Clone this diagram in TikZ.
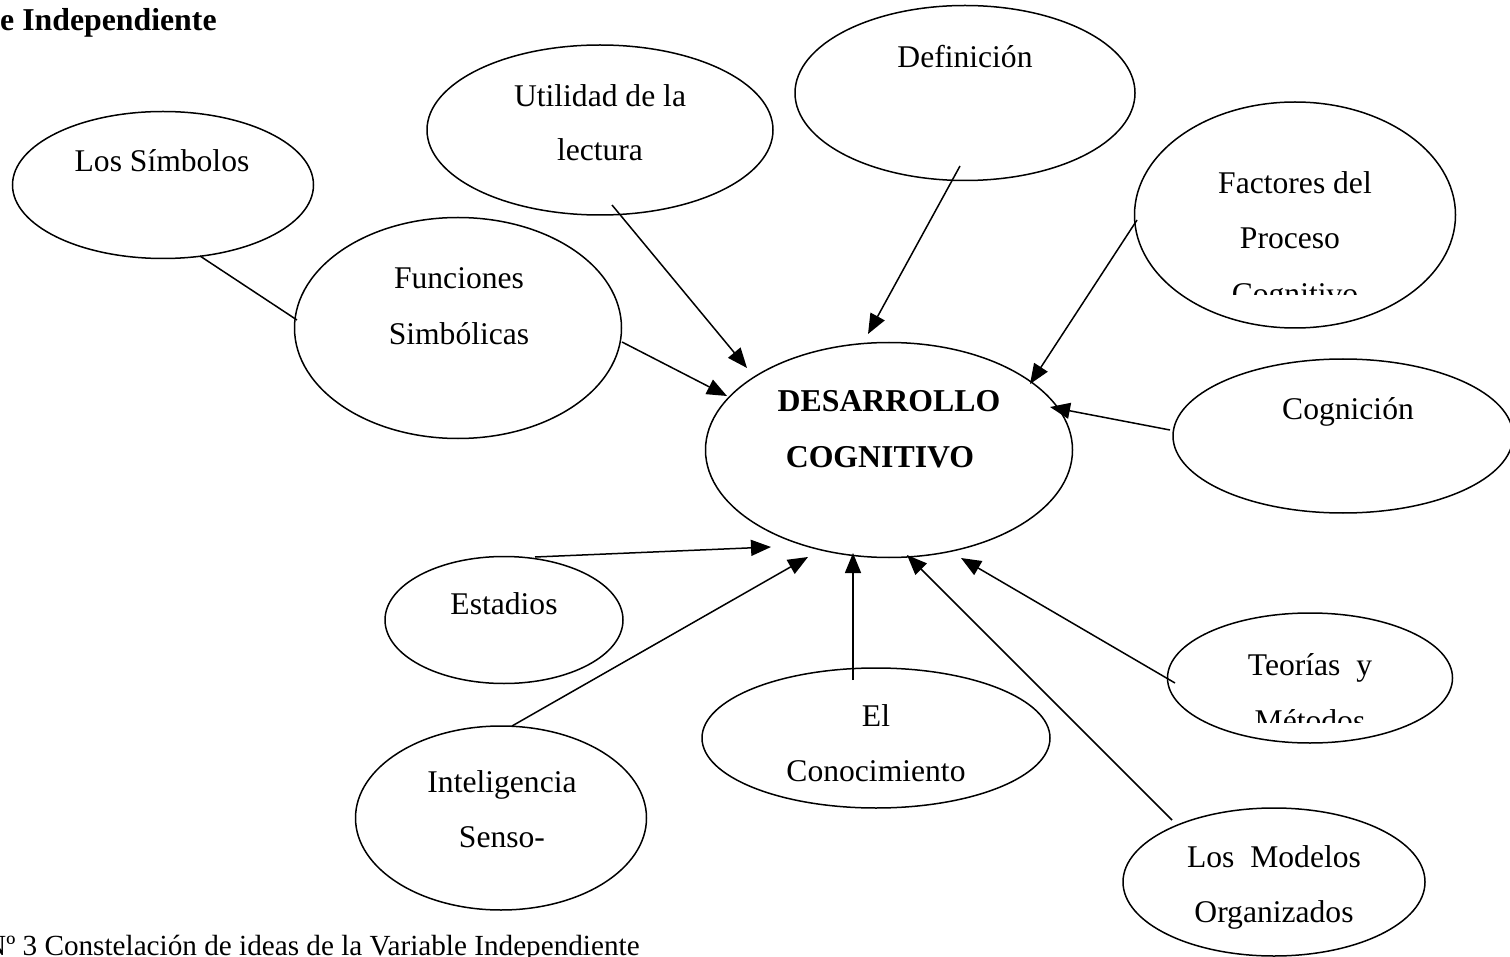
\documentclass[tikz,border=0pt]{standalone}
\usepackage{fontspec}
\setmainfont{Liberation Serif}
\usetikzlibrary{shapes.geometric,arrows.meta}
\tikzset{
  bub/.style={draw=black, line width=1.5pt, ellipse, inner sep=0pt},
  lbl/.style={anchor=base, inner sep=0pt, font=\fontsize{31.6}{38}\selectfont},
  blbl/.style={anchor=base, inner sep=0pt, font=\fontsize{31.8}{38}\selectfont\bfseries},
  conn/.style={line width=1.5pt, draw=black},
  arr/.style={conn, -{Triangle[length=20pt,width=16pt]}}
}
\begin{document}
\begin{tikzpicture}[x=1pt,y=-1pt]
\useasboundingbox (0,0) rectangle (1510,957);
\clip (0,0) rectangle (1510,957);
\fill[white] (0,0) rectangle (1510,957);
% title and caption
\node[blbl, anchor=base west] (title) at (0,31) {e Independiente};
\node[anchor=base west, inner sep=0pt, font=\fontsize{29.2}{34}\selectfont] (cap) at (-15,955) {Nº 3 Constelación de ideas de la Variable Independiente};
% ellipses
\node[bub, minimum width=301pt, minimum height=147pt] (sim) at (163,185) {};
\node[bub, minimum width=327pt, minimum height=221pt] (fun) at (458,328) {};
\node[bub, minimum width=346pt, minimum height=170pt] (uti) at (600,130) {};
\node[bub, minimum width=340pt, minimum height=175pt] (def) at (965,93) {};
\node[bub, minimum width=321pt, minimum height=226pt] (fac) at (1295,215) {};
\node[bub, minimum width=340pt, minimum height=154pt] (cog) at (1343,436) {};
\node[bub, minimum width=367pt, minimum height=215pt] (dc) at (889,450) {};
\node[bub, minimum width=238pt, minimum height=127pt] (est) at (504,620) {};
\node[bub, minimum width=291pt, minimum height=184pt] (int) at (501,818) {};
\node[bub, minimum width=348pt, minimum height=140pt] (con) at (876,738) {};
\node[bub, minimum width=285pt, minimum height=130pt] (teo) at (1310,678) {};
\node[bub, minimum width=302pt, minimum height=148pt] (mod) at (1274,882) {};
% texts
\node[lbl] (tsim) at (162,172) {Los Símbolos};
\node[lbl] (tfun1) at (459,289) {Funciones};
\node[lbl] (tfun2) at (459,345) {Simbólicas};
\node[lbl] (tuti1) at (600,107) {Utilidad de la};
\node[lbl] (tuti2) at (600,161) {lectura};
\node[lbl] (tdef) at (965,68) {Definición};
\node[lbl] (tfac1) at (1295,194) {Factores del};
\node[lbl] (tfac2) at (1290,249) {Proceso};
\begin{scope}
\clip (1130,260) rectangle (1460,295);
\node[lbl] (tfac3) at (1295,305) {Cognitivo};
\end{scope}
\node[lbl] (tcog) at (1348,420) {Cognición};
\node[blbl] (tdc1) at (889,412) {DESARROLLO};
\node[blbl] (tdc2) at (880,467) {COGNITIVO};
\node[lbl] (test) at (504,614) {Estadios};
\node[lbl] (tint1) at (502,792) {Inteligencia};
\node[lbl] (tint2) at (502,847) {Senso-};
\node[lbl] (tcon1) at (876,726) {El};
\node[lbl] (tcon2) at (876,781) {Conocimiento};
\node[lbl] (tteo1) at (1310,675) {Teorías\ \ y};
\begin{scope}
\clip (1160,690) rectangle (1460,722);
\node[lbl] (tteo2) at (1310,731) {Métodos};
\end{scope}
\node[lbl] (tmod1) at (1274,867) {Los\ \ Modelos};
\node[lbl] (tmod2) at (1274,922) {Organizados};
% connector end points
\coordinate (s1) at (200,256);   \coordinate (e1) at (297,320);
\coordinate (s2) at (622,342);   \coordinate (e2) at (727,396);
\coordinate (s3) at (612,205);   \coordinate (e3) at (747,368);
\coordinate (s4) at (960,166);   \coordinate (e4) at (868,334);
\coordinate (s5) at (1137,220);  \coordinate (e5) at (1030,384);
\coordinate (s6) at (1170,430);  \coordinate (e6) at (1050,407);
\coordinate (s7) at (535,557);   \coordinate (e7) at (771,547);
\coordinate (s8) at (512,726);   \coordinate (e8) at (808,557);
\coordinate (s9) at (853,680);   \coordinate (e9) at (853,553);
\coordinate (s10) at (1172,820); \coordinate (e10) at (907,555);
\coordinate (s11) at (1175,683); \coordinate (e11) at (961,558);
% connectors
\draw[conn] (s1) -- (e1);
\draw[arr] (s2) -- (e2);
\draw[arr] (s3) -- (e3);
\draw[arr] (s4) -- (e4);
\draw[arr] (s5) -- (e5);
\draw[arr] (s6) -- (e6);
\draw[arr] (s7) -- (e7);
\draw[arr] (s8) -- (e8);
\draw[arr] (s9) -- (e9);
\draw[arr] (s10) -- (e10);
\draw[arr] (s11) -- (e11);
\end{tikzpicture}
\end{document}
